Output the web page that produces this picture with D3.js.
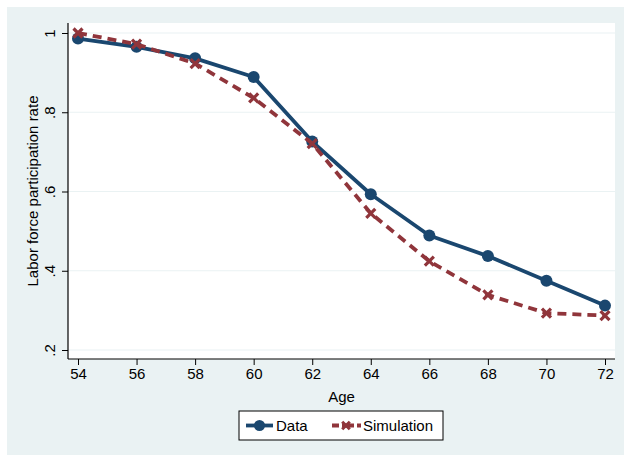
<!DOCTYPE html>
<html>
<head>
<meta charset="utf-8">
<script src="https://cdn.jsdelivr.net/npm/d3@7"></script>
<style>
  html, body { margin: 0; padding: 0; background: #ffffff; }
  svg { display: block; }
  text { font-family: "Liberation Sans", Arial, sans-serif; fill: #000; }
</style>
</head>
<body>
<svg id="chart" width="624" height="455"></svg>
<script>
// Labor force participation by age: observed data vs. model simulation
const ages = [54, 56, 58, 60, 62, 64, 66, 68, 70, 72];
const dataRate = [0.986, 0.965, 0.936, 0.889, 0.726, 0.593, 0.489, 0.437, 0.375, 0.312];
const simRate = [1.000, 0.972, 0.923, 0.836, 0.721, 0.545, 0.424, 0.339, 0.293, 0.287];
const yTicks = [0.2, 0.4, 0.6, 0.8, 1];
const yTickLabels = [".2", ".4", ".6", ".8", "1"];
const xTicks = [54, 56, 58, 60, 62, 64, 66, 68, 70, 72];
const seriesNames = ["Data", "Simulation"];

const navy = "#1a476f";
const maroon = "#90353b";
const bg = "#eaf2f3";
const fontSize = "15px";

const svg = d3.select("#chart");

// outer graph region
svg.append("rect").attr("x", 7).attr("y", 7).attr("width", 617).attr("height", 448).attr("fill", bg);

const plot = { left: 68, right: 615, top: 23, bottom: 359 };
svg.append("rect")
  .attr("x", plot.left).attr("y", plot.top)
  .attr("width", plot.right - plot.left).attr("height", plot.bottom - plot.top)
  .attr("fill", "#ffffff");

const x = d3.scaleLinear().domain([54, 72]).range([78, 605]);
const y = d3.scaleLinear().domain([0.2, 1]).range([350, 33]);

// horizontal grid lines
svg.append("g").selectAll("line").data(yTicks).join("line")
  .attr("x1", plot.left).attr("x2", plot.right)
  .attr("y1", d => y(d)).attr("y2", d => y(d))
  .attr("stroke", bg).attr("stroke-width", 1.2);

// y axis
const yAxis = d3.axisLeft(y).tickValues(yTicks)
  .tickFormat((d, i) => yTickLabels[i]).tickSize(6).tickSizeOuter(0);
const gy = svg.append("g").attr("transform", `translate(${plot.left},0)`).call(yAxis);
gy.select(".domain").remove();
gy.append("line").attr("x1", 0).attr("x2", 0).attr("y1", plot.top).attr("y2", plot.bottom)
  .attr("stroke", "#000").attr("stroke-width", 1.2);
gy.selectAll(".tick line").attr("stroke", "#000").attr("stroke-width", 1);
gy.selectAll(".tick text")
  .attr("x", 0).attr("dy", 0)
  .attr("transform", "translate(-13,0) rotate(-90)")
  .attr("text-anchor", "middle")
  .style("font-size", fontSize)
  .style("font-family", "'Liberation Sans', Arial, sans-serif")
  .attr("fill", "#000");

// x axis
const xAxis = d3.axisBottom(x).tickValues(xTicks).tickFormat(d3.format("d")).tickSize(6).tickSizeOuter(0);
const gx = svg.append("g").attr("transform", `translate(0,${plot.bottom})`).call(xAxis);
gx.select(".domain").remove();
gx.append("line").attr("x1", plot.left).attr("x2", plot.right).attr("y1", 0).attr("y2", 0)
  .attr("stroke", "#000").attr("stroke-width", 1.2);
gx.selectAll(".tick line").attr("stroke", "#000").attr("stroke-width", 1);
gx.selectAll(".tick text")
  .attr("y", 20).attr("dy", 0)
  .style("font-size", fontSize)
  .style("font-family", "'Liberation Sans', Arial, sans-serif")
  .attr("fill", "#000");

// axis titles
svg.append("text")
  .attr("transform", `translate(38,${(plot.top + plot.bottom) / 2}) rotate(-90)`)
  .attr("text-anchor", "middle")
  .style("font-size", fontSize)
  .text("Labor force participation rate");
svg.append("text")
  .attr("x", (plot.left + plot.right) / 2).attr("y", 402)
  .attr("text-anchor", "middle")
  .style("font-size", fontSize)
  .text("Age");

const line = d3.line().x(d => x(d[0])).y(d => y(d[1]));
const dataPts = ages.map((a, i) => [a, dataRate[i]]);
const simPts = ages.map((a, i) => [a, simRate[i]]);

// X-shaped marker path
function cross(cx, cy, r) {
  return `M${cx - r},${cy - r}L${cx + r},${cy + r}M${cx - r},${cy + r}L${cx + r},${cy - r}`;
}

// Data series
svg.append("path").datum(dataPts).attr("d", line)
  .attr("fill", "none").attr("stroke", navy).attr("stroke-width", 3.8)
  .attr("stroke-linejoin", "round");
svg.append("g").selectAll("circle").data(dataPts).join("circle")
  .attr("cx", d => x(d[0])).attr("cy", d => y(d[1])).attr("r", 6)
  .attr("fill", navy);

// Simulation series
svg.append("path").datum(simPts).attr("d", line)
  .attr("fill", "none").attr("stroke", maroon).attr("stroke-width", 3.8)
  .attr("stroke-dasharray", "9,6");
svg.append("g").selectAll("path").data(simPts).join("path")
  .attr("d", d => cross(x(d[0]), y(d[1]), 4.5))
  .attr("stroke", maroon).attr("stroke-width", 3.2).attr("fill", "none");

// legend
const lg = svg.append("g");
lg.append("rect").attr("x", 239).attr("y", 411).attr("width", 204).attr("height", 29)
  .attr("fill", "#ffffff").attr("stroke", "#000").attr("stroke-width", 1);
const keyY = 425.5;
// Data key
lg.append("line").attr("x1", 246).attr("x2", 273).attr("y1", keyY).attr("y2", keyY)
  .attr("stroke", navy).attr("stroke-width", 3.8);
lg.append("circle").attr("cx", 259.5).attr("cy", keyY).attr("r", 5.5).attr("fill", navy);
lg.append("text").attr("x", 276).attr("y", keyY + 5.5).style("font-size", fontSize).text(seriesNames[0]);
// Simulation key
lg.append("line").attr("x1", 332).attr("x2", 361).attr("y1", keyY).attr("y2", keyY)
  .attr("stroke", maroon).attr("stroke-width", 3.8).attr("stroke-dasharray", "7,3,12,3,4");
lg.append("path").attr("d", cross(346, keyY, 3.8))
  .attr("stroke", maroon).attr("stroke-width", 3).attr("fill", "none");
lg.append("text").attr("x", 363).attr("y", keyY + 5.5).style("font-size", fontSize).text(seriesNames[1]);
</script>
</body>
</html>
